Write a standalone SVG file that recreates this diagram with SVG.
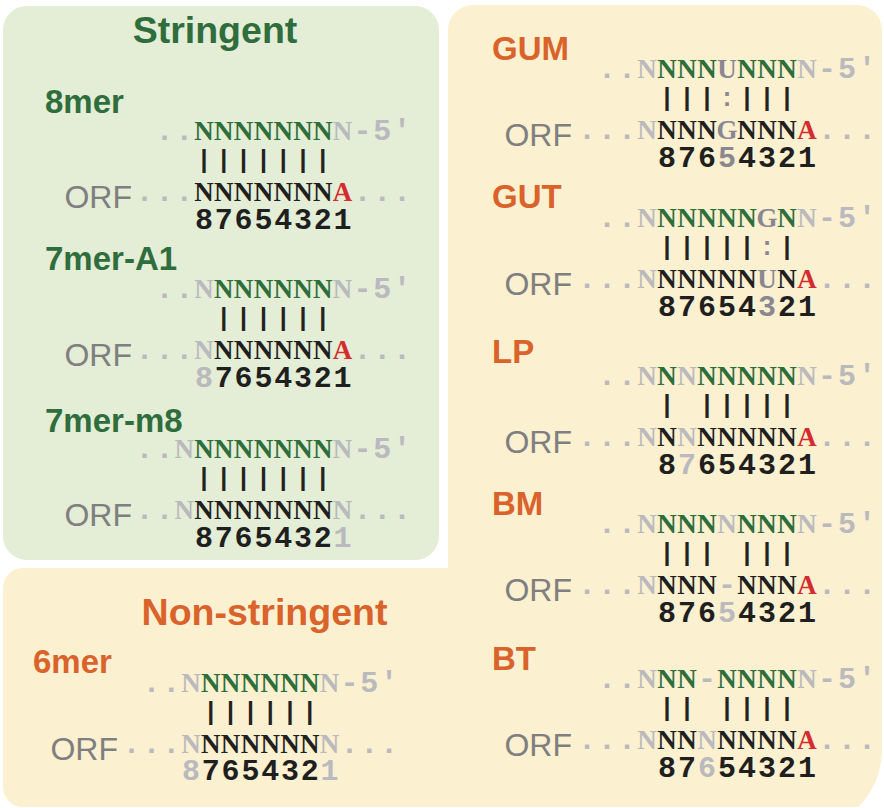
<svg xmlns="http://www.w3.org/2000/svg" width="884" height="808" viewBox="0 0 884 808">
<style>
text{font-weight:bold}
.lab{font-family:"Liberation Sans",Arial,sans-serif;font-size:33px}
.ttl{font-family:"Liberation Sans",Arial,sans-serif;font-size:37.5px;text-anchor:middle}
.orf{font-family:"Liberation Sans",Arial,sans-serif;font-weight:normal;font-size:32px;fill:#7f7f7f;text-anchor:end}
.nt{font-family:"Liberation Serif","Times New Roman",serif;font-size:27px;text-anchor:middle}
.mo{font-family:"Liberation Mono","Courier New",monospace;font-size:30px;text-anchor:middle}
.pp{font-family:"Liberation Mono","Courier New",monospace;font-size:25px;text-anchor:middle;fill:#222}
.gt{fill:#2f6d3d}
.ot{fill:#d9632b}
.gr{fill:#2d6e3a}
.bk{fill:#1f1f1f}
.rd{fill:#d42b2f}
.lg{fill:#b9b9be}
.mg{fill:#8a8790}
</style>
<g id="panels">
<path d="M448,568 V30 A25,25 0 0 1 473,5 H857 A25,25 0 0 1 882,30 V750 A80,80 0 0 1 858.1,807 H23 A20,20 0 0 1 3,787 V588 A20,20 0 0 1 23,568 Z" fill="#fbf0d0"/>
<rect x="3" y="6" width="436" height="554" rx="24" fill="#e4edd5" stroke="#ffffff" stroke-width="16" paint-order="stroke"/>
<text class="ttl gt" x="215" y="43">Stringent</text>
<text class="ttl ot" x="264.5" y="625">Non-stringent</text>
</g>

<g id="node-8mer">
<text class="lab gt" x="45" y="113">8mer</text>
<g transform="translate(204,140)">
<text class="mo lg" x="-39.6 -19.8" y="0">..</text>
<text class="nt" y="0"><tspan class="gr" x="0 19.8 39.6 59.4 79.2 99 118.8">NNNNNNN</tspan><tspan class="lg" x="138.6">N</tspan></text>
<text class="mo lg" x="158.4 178.2 198" y="0">-5'</text>
<text class="pp" x="0 19.8 39.6 59.4 79.2 99 118.8" y="28">|||||||</text>
<text class="orf" x="-72" y="68">ORF</text>
<text class="mo lg" x="-59.4 -39.6 -19.8" y="61">...</text>
<text class="mo lg" x="158.4 178.2 198" y="61">...</text>
<text class="nt" y="61"><tspan class="bk" x="0 19.8 39.6 59.4 79.2 99 118.8">NNNNNNN</tspan><tspan class="rd" x="138.6">A</tspan></text>
<text class="mo bk" x="0 19.8 39.6 59.4 79.2 99 118.8 138.6" y="89">87654321</text>
</g>
</g>

<g id="node-7mer-A1">
<text class="lab gt" x="45" y="270">7mer-A1</text>
<g transform="translate(204,298)">
<text class="mo lg" x="-39.6 -19.8" y="0">..</text>
<text class="nt" y="0"><tspan class="lg" x="0">N</tspan><tspan class="gr" x="19.8 39.6 59.4 79.2 99 118.8">NNNNNN</tspan><tspan class="lg" x="138.6">N</tspan></text>
<text class="mo lg" x="158.4 178.2 198" y="0">-5'</text>
<text class="pp" x="19.8 39.6 59.4 79.2 99 118.8" y="28">||||||</text>
<text class="orf" x="-72" y="68">ORF</text>
<text class="mo lg" x="-59.4 -39.6 -19.8" y="61">...</text>
<text class="mo lg" x="158.4 178.2 198" y="61">...</text>
<text class="nt" y="61"><tspan class="lg" x="0">N</tspan><tspan class="bk" x="19.8 39.6 59.4 79.2 99 118.8">NNNNNN</tspan><tspan class="rd" x="138.6">A</tspan></text>
<text class="mo" y="89"><tspan class="lg" x="0">8</tspan><tspan class="bk" x="19.8 39.6 59.4 79.2 99 118.8 138.6">7654321</tspan></text>
</g>
</g>

<g id="node-7mer-m8">
<text class="lab gt" x="45" y="432">7mer-m8</text>
<g transform="translate(204,458)">
<text class="mo lg" x="-59.4 -39.6" y="0">..</text>
<text class="nt" y="0"><tspan class="lg" x="-19.8">N</tspan><tspan class="gr" x="0 19.8 39.6 59.4 79.2 99 118.8">NNNNNNN</tspan><tspan class="lg" x="138.6">N</tspan></text>
<text class="mo lg" x="158.4 178.2 198" y="0">-5'</text>
<text class="pp" x="0 19.8 39.6 59.4 79.2 99 118.8" y="28">|||||||</text>
<text class="orf" x="-72" y="68">ORF</text>
<text class="mo lg" x="-59.4 -39.6" y="61">..</text>
<text class="mo lg" x="158.4 178.2 198" y="61">...</text>
<text class="nt" y="61"><tspan class="lg" x="-19.8">N</tspan><tspan class="bk" x="0 19.8 39.6 59.4 79.2 99 118.8">NNNNNNN</tspan><tspan class="lg" x="138.6">N</tspan></text>
<text class="mo" y="89"><tspan class="bk" x="0 19.8 39.6 59.4 79.2 99 118.8">8765432</tspan><tspan class="lg" x="138.6">1</tspan></text>
</g>
</g>

<g id="node-6mer">
<text class="lab ot" x="33" y="673">6mer</text>
<g transform="translate(191,692)">
<text class="mo lg" x="-39.6 -19.8" y="0">..</text>
<text class="nt" y="0"><tspan class="lg" x="0">N</tspan><tspan class="gr" x="19.8 39.6 59.4 79.2 99 118.8">NNNNNN</tspan><tspan class="lg" x="138.6">N</tspan></text>
<text class="mo lg" x="158.4 178.2 198" y="0">-5'</text>
<text class="pp" x="19.8 39.6 59.4 79.2 99 118.8" y="28">||||||</text>
<text class="orf" x="-73" y="68">ORF</text>
<text class="mo lg" x="-59.4 -39.6 -19.8" y="61">...</text>
<text class="mo lg" x="158.4 178.2 198" y="61">...</text>
<text class="nt" y="61"><tspan class="lg" x="0">N</tspan><tspan class="bk" x="19.8 39.6 59.4 79.2 99 118.8">NNNNNN</tspan><tspan class="lg" x="138.6">N</tspan></text>
<text class="mo" y="88"><tspan class="lg" x="0">8</tspan><tspan class="bk" x="19.8 39.6 59.4 79.2 99 118.8">765432</tspan><tspan class="lg" x="138.6">1</tspan></text>
</g>
</g>

<g id="node-GUM">
<text class="lab ot" x="492" y="60">GUM</text>
<g transform="translate(667,78)">
<text class="mo lg" x="-60 -40" y="0">..</text>
<text class="nt" y="0"><tspan class="lg" x="-20">N</tspan><tspan class="gr" x="0 20 40">NNN</tspan><tspan class="mg" x="60">U</tspan><tspan class="gr" x="80 100 120">NNN</tspan><tspan class="lg" x="140">N</tspan></text>
<text class="mo lg" x="160 180 200" y="0">-5'</text>
<text class="pp" y="28"><tspan x="0 20 40">|||</tspan><tspan class="mg" x="60">:</tspan><tspan x="80 100 120">|||</tspan></text>
<text class="orf" x="-95" y="68">ORF</text>
<text class="mo lg" x="-80 -60 -40" y="61">...</text>
<text class="mo lg" x="160 180 200" y="61">...</text>
<text class="nt" y="61"><tspan class="lg" x="-20">N</tspan><tspan class="bk" x="0 20 40">NNN</tspan><tspan class="mg" x="60">G</tspan><tspan class="bk" x="80 100 120">NNN</tspan><tspan class="rd" x="140">A</tspan></text>
<text class="mo" y="89"><tspan class="bk" x="0 20 40">876</tspan><tspan class="mg" x="60">5</tspan><tspan class="bk" x="80 100 120 140">4321</tspan></text>
</g>
</g>

<g id="node-GUT">
<text class="lab ot" x="492" y="208">GUT</text>
<g transform="translate(667,227)">
<text class="mo lg" x="-60 -40" y="0">..</text>
<text class="nt" y="0"><tspan class="lg" x="-20">N</tspan><tspan class="gr" x="0 20 40 60 80">NNNNN</tspan><tspan class="mg" x="100">G</tspan><tspan class="gr" x="120">N</tspan><tspan class="lg" x="140">N</tspan></text>
<text class="mo lg" x="160 180 200" y="0">-5'</text>
<text class="pp" y="28"><tspan x="0 20 40 60 80">|||||</tspan><tspan class="mg" x="100">:</tspan><tspan x="120">|</tspan></text>
<text class="orf" x="-95" y="68">ORF</text>
<text class="mo lg" x="-80 -60 -40" y="61">...</text>
<text class="mo lg" x="160 180 200" y="61">...</text>
<text class="nt" y="61"><tspan class="lg" x="-20">N</tspan><tspan class="bk" x="0 20 40 60 80">NNNNN</tspan><tspan class="mg" x="100">U</tspan><tspan class="bk" x="120">N</tspan><tspan class="rd" x="140">A</tspan></text>
<text class="mo" y="89"><tspan class="bk" x="0 20 40 60 80">87654</tspan><tspan class="mg" x="100">3</tspan><tspan class="bk" x="120 140">21</tspan></text>
</g>
</g>

<g id="node-LP">
<text class="lab ot" x="492" y="363">LP</text>
<g transform="translate(667,385)">
<text class="mo lg" x="-60 -40" y="0">..</text>
<text class="nt" y="0"><tspan class="lg" x="-20">N</tspan><tspan class="gr" x="0">N</tspan><tspan class="lg" x="20">N</tspan><tspan class="gr" x="40 60 80 100 120">NNNNN</tspan><tspan class="lg" x="140">N</tspan></text>
<text class="mo lg" x="160 180 200" y="0">-5'</text>
<text class="pp" x="0 40 60 80 100 120" y="28">||||||</text>
<text class="orf" x="-95" y="68">ORF</text>
<text class="mo lg" x="-80 -60 -40" y="61">...</text>
<text class="mo lg" x="160 180 200" y="61">...</text>
<text class="nt" y="61"><tspan class="lg" x="-20">N</tspan><tspan class="bk" x="0">N</tspan><tspan class="lg" x="20">N</tspan><tspan class="bk" x="40 60 80 100 120">NNNNN</tspan><tspan class="rd" x="140">A</tspan></text>
<text class="mo" y="89"><tspan class="bk" x="0">8</tspan><tspan class="lg" x="20">7</tspan><tspan class="bk" x="40 60 80 100 120 140">654321</tspan></text>
</g>
</g>

<g id="node-BM">
<text class="lab ot" x="492" y="515">BM</text>
<g transform="translate(667,533)">
<text class="mo lg" x="-60 -40" y="0">..</text>
<text class="nt" y="0"><tspan class="lg" x="-20">N</tspan><tspan class="gr" x="0 20 40">NNN</tspan><tspan class="lg" x="60">N</tspan><tspan class="gr" x="80 100 120">NNN</tspan><tspan class="lg" x="140">N</tspan></text>
<text class="mo lg" x="160 180 200" y="0">-5'</text>
<text class="pp" x="0 20 40 80 100 120" y="28">||||||</text>
<text class="orf" x="-95" y="68">ORF</text>
<text class="mo lg" x="-80 -60 -40" y="61">...</text>
<text class="mo lg" x="160 180 200" y="61">...</text>
<text class="nt" y="61"><tspan class="lg" x="-20">N</tspan><tspan class="bk" x="0 20 40">NNN</tspan><tspan class="lg" font-family="Liberation Mono, monospace" font-size="30" x="60">-</tspan><tspan class="bk" x="80 100 120">NNN</tspan><tspan class="rd" x="140">A</tspan></text>
<text class="mo" y="89"><tspan class="bk" x="0 20 40">876</tspan><tspan class="lg" x="60">5</tspan><tspan class="bk" x="80 100 120 140">4321</tspan></text>
</g>
</g>

<g id="node-BT">
<text class="lab ot" x="492" y="670">BT</text>
<g transform="translate(667,688)">
<text class="mo lg" x="-60 -40" y="0">..</text>
<text class="nt" y="0"><tspan class="lg" x="-20">N</tspan><tspan class="gr" x="0 20">NN</tspan><tspan class="lg" font-family="Liberation Mono, monospace" font-size="30" x="40">-</tspan><tspan class="gr" x="60 80 100 120">NNNN</tspan><tspan class="lg" x="140">N</tspan></text>
<text class="mo lg" x="160 180 200" y="0">-5'</text>
<text class="pp" x="0 20 60 80 100 120" y="28">||||||</text>
<text class="orf" x="-95" y="68">ORF</text>
<text class="mo lg" x="-80 -60 -40" y="61">...</text>
<text class="mo lg" x="160 180 200" y="61">...</text>
<text class="nt" y="61"><tspan class="lg" x="-20">N</tspan><tspan class="bk" x="0 20">NN</tspan><tspan class="lg" x="40">N</tspan><tspan class="bk" x="60 80 100 120">NNNN</tspan><tspan class="rd" x="140">A</tspan></text>
<text class="mo" y="89"><tspan class="bk" x="0 20">87</tspan><tspan class="lg" x="40">6</tspan><tspan class="bk" x="60 80 100 120 140">54321</tspan></text>
</g>
</g>
</svg>
